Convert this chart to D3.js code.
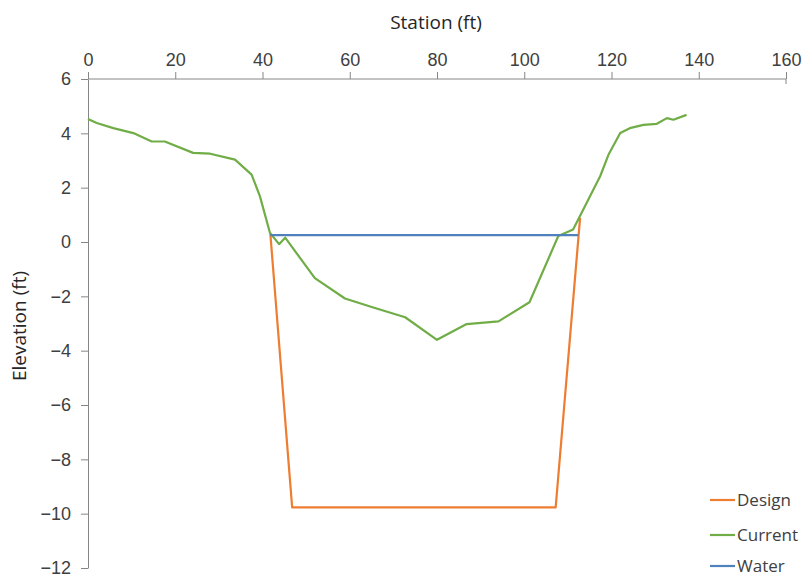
<!DOCTYPE html>
<html>
<head>
<meta charset="utf-8">
<script src="https://cdn.jsdelivr.net/npm/d3@7"></script>
<style>
  body { margin: 0; background: #fff; }
  svg { display: block; font-family: "Open Sans", "Noto Sans", sans-serif; }
  .axis path, .axis line { stroke: #868686; }
  .axis text { fill: #404040; font-size: 18px; }
</style>
</head>
<body>
<svg></svg>
<script>
// 现状断面 (station, elevation)
let currentStation = [0, 2, 5.8, 10.4, 14.6, 17.6, 24.1, 28, 33.7, 37.5, 39.4, 41.7, 43.8, 45.2, 52, 58.9, 65.4, 72.7, 80, 86.8, 94.1, 101.2, 107.8, 111.2, 114.7, 117.4, 119.3, 122, 124.2, 127.3, 130.4, 132.7, 134.2, 137.2];
let currentElev = [4.53, 4.38, 4.19, 4.01, 3.7, 3.7, 3.28, 3.25, 3.03, 2.48, 1.69, 0.34, -0.08, 0.16, -1.33, -2.08, -2.41, -2.77, -3.6, -3.02, -2.92, -2.22, 0.22, 0.46, 1.56, 2.42, 3.21, 4.01, 4.19, 4.31, 4.35, 4.56, 4.5, 4.68];

// 设计断面
let designStation = [41.8, 46.8, 107.2, 112.8];
let designElev = [0.3, -9.77, -9.77, 0.89];

// 水位
let waterStation = [41.8, 112.4];
let waterElev = [0.25, 0.25];

let xTicks = [0, 20, 40, 60, 80, 100, 120, 140, 160];
let yTicks = [6, 4, 2, 0, -2, -4, -6, -8, -10, -12];

let seriesNames = ['Design', 'Current', 'Water'];
let seriesColors = ['#ed7d31', '#70ad47', '#4f81bd'];

let width = 804;
let height = 577;

let margin = { top: 79, left: 88, right: 18, bottom: 9 };

let svg = d3.select('svg')
    .attr('width', width)
    .attr('height', height);

let x = d3.scaleLinear()
    .domain([0, 160])
    .range([margin.left, width - margin.right]);

let y = d3.scaleLinear()
    .domain([-12, 6])
    .range([height - margin.bottom, margin.top]);

// 坐标轴
let xAxis = svg.append('g')
    .attr('class', 'axis')
    .attr('transform', 'translate(0,' + y(6) + ')')
    .call(d3.axisTop(x).tickValues(xTicks).tickSizeInner(7).tickSizeOuter(0).tickPadding(6));

svg.append('g')
    .attr('class', 'axis')
    .attr('transform', 'translate(' + x(0) + ',0)')
    .call(d3.axisLeft(y).tickValues(yTicks).tickSizeInner(7).tickSizeOuter(0).tickPadding(10));

// 160 处的短刻度向下
xAxis.select('.domain').remove();
xAxis.append('line')
    .attr('x1', x(0)).attr('x2', x(160))
    .attr('stroke', '#868686');
xAxis.append('line')
    .attr('x1', x(160)).attr('x2', x(160))
    .attr('y1', 0).attr('y2', 5)
    .attr('stroke', '#868686');

svg.append('text')
    .attr('x', 436)
    .attr('y', 29)
    .attr('text-anchor', 'middle')
    .attr('fill', '#262626')
    .style('font-size', '19px')
    .text('Station (ft)');

svg.append('text')
    .attr('transform', 'translate(26,' + 326 + ') rotate(-90)')
    .attr('text-anchor', 'middle')
    .attr('fill', '#262626')
    .style('font-size', '19px')
    .text('Elevation (ft)');

let line = d3.line()
    .x(d => x(d[0]))
    .y(d => y(d[1]));

let series = [
    d3.zip(designStation, designElev),
    d3.zip(currentStation, currentElev),
    d3.zip(waterStation, waterElev)
];

svg.append('g')
    .selectAll('path')
    .data(series)
    .enter()
    .append('path')
    .attr('d', line)
    .attr('fill', 'none')
    .attr('stroke', (d, i) => seriesColors[i])
    .attr('stroke-width', 2.2)
    .attr('stroke-linejoin', 'round');

// 图例
let legend = svg.append('g')
    .selectAll('g')
    .data(seriesNames)
    .enter()
    .append('g')
    .attr('transform', (d, i) => 'translate(710,' + [500, 535, 566][i] + ')');

legend.append('line')
    .attr('x1', 0).attr('x2', 25)
    .attr('stroke', (d, i) => seriesColors[i])
    .attr('stroke-width', 2.2);

legend.append('text')
    .attr('x', 27)
    .attr('dy', '0.35em')
    .attr('fill', '#404040')
    .style('font-size', '17px')
    .text(d => d);
</script>
</body>
</html>
